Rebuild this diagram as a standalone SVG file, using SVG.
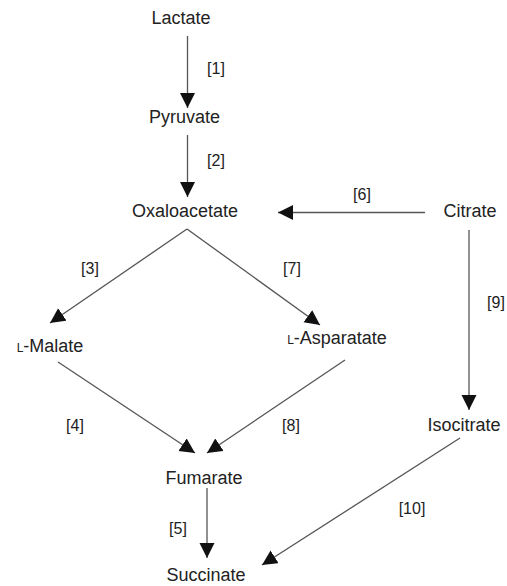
<svg xmlns="http://www.w3.org/2000/svg" width="507" height="586" viewBox="0 0 507 586">
<defs>
<marker id="ah" markerUnits="userSpaceOnUse" markerWidth="16" markerHeight="16" refX="15" refY="7.5" orient="auto">
<path d="M0,0 L15,7.5 L0,15 z" fill="#111"/>
</marker>
<style>
text{font-family:"Liberation Sans",Arial,sans-serif;fill:#222;text-anchor:middle}
.n{font-size:18px}
.l{font-size:16px}
.c line{stroke:#555;stroke-width:1.3;fill:none;marker-end:url(#ah)}
</style>
</defs>
<rect width="507" height="586" fill="#fff"/>
<g class="c" id="connectors">
<line x1="187.5" y1="36" x2="187.5" y2="108"/>
<line x1="187.5" y1="135" x2="187.5" y2="197"/>
<line x1="425" y1="212.5" x2="278" y2="212.5"/>
<line x1="187" y1="229" x2="50" y2="323"/>
<line x1="187" y1="229" x2="320" y2="325"/>
<line x1="469" y1="230" x2="469" y2="410"/>
<line x1="58" y1="362" x2="195" y2="453"/>
<line x1="345" y1="360" x2="207" y2="453"/>
<line x1="207" y1="488" x2="207" y2="558"/>
<line x1="460" y1="438" x2="262" y2="565"/>
</g>
<g id="labels">
<text class="l" x="216" y="74">[1]</text>
<text class="l" x="216" y="166">[2]</text>
<text class="l" x="362" y="200">[6]</text>
<text class="l" x="90" y="274">[3]</text>
<text class="l" x="292" y="274">[7]</text>
<text class="l" x="496" y="308">[9]</text>
<text class="l" x="75" y="431">[4]</text>
<text class="l" x="291" y="431">[8]</text>
<text class="l" x="178" y="534">[5]</text>
<text class="l" x="412" y="514">[10]</text>
</g>
<g id="lactate"><text class="n" x="181" y="24">Lactate</text></g>
<g id="pyruvate"><text class="n" x="184.5" y="123">Pyruvate</text></g>
<g id="oxaloacetate"><text class="n" x="185" y="217">Oxaloacetate</text></g>
<g id="citrate"><text class="n" x="470" y="217">Citrate</text></g>
<g id="malate"><text class="n" x="50" y="352"><tspan font-size="12">L</tspan>-Malate</text></g>
<g id="asparatate"><text class="n" x="337" y="344"><tspan font-size="12">L</tspan>-Asparatate</text></g>
<g id="isocitrate"><text class="n" x="464" y="431">Isocitrate</text></g>
<g id="fumarate"><text class="n" x="204" y="484">Fumarate</text></g>
<g id="succinate"><text class="n" x="206" y="581">Succinate</text></g>
</svg>
